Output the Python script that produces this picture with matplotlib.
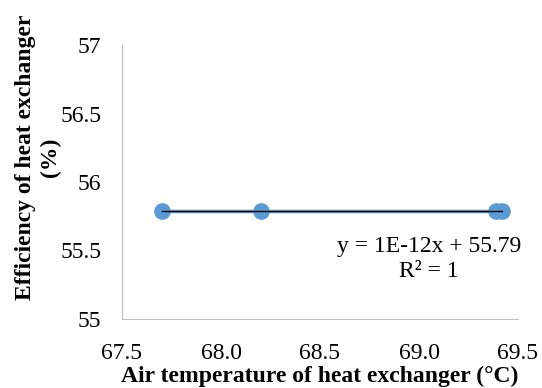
import numpy as np
import matplotlib.pyplot as plt

plt.rcParams['font.family'] = ['Liberation Serif', 'DejaVu Serif']

# temperatura powietrza i sprawnosc wymiennika
temp = [67.70, 68.20, 69.39, 69.42]
sprawnosc = [55.79, 55.79, 55.79, 55.79]

fig = plt.figure(figsize=(5.42, 3.88), dpi=100)
ax = fig.add_axes([122/542, 1 - 319/388, 396/542, 274/388])

ax.plot(temp, sprawnosc, color='#5B9BD5', linewidth=2.5, marker='o',
        markersize=11, zorder=2)

# linia trendu
a, b = np.polyfit(temp, sprawnosc, 1)
xt = np.array([min(temp), max(temp)])
ax.plot(xt, a * xt + b, color='black', linewidth=1, zorder=3)

ax.text(69.05, 55.44, 'y = 1E-12x + 55.79\nR² = 1', fontsize=17,
        ha='center', va='center', linespacing=1.25)

ax.set_xlim(67.5, 69.5)
ax.set_ylim(55, 57)
ax.set_xticks(np.arange(67.5, 69.6, 0.5))
ax.set_xticklabels(['67.5', '68.0', '68.5', '69.0', '69.5'])
ax.set_yticks([55, 55.5, 56, 56.5, 57])
ax.set_yticklabels(['55', '55.5', '56', '56.5', '57'])
ax.tick_params(length=0, labelsize=17)
ax.tick_params(axis='y', pad=15)
ax.tick_params(axis='x', pad=17)

for s in ['top', 'right']:
    ax.spines[s].set_visible(False)
for s in ['left', 'bottom']:
    ax.spines[s].set_color('#BFBFBF')

ax.set_xlabel('Air temperature of heat exchanger (°C)', fontsize=17,
              fontweight='bold')
ax.xaxis.set_label_coords(0.5, -0.17)
ax.set_ylabel('Efficiency of heat exchanger\n(%)', fontsize=17,
              fontweight='bold', linespacing=1.2)
ax.yaxis.set_label_coords(-0.155, 0.59)

fig.savefig('out.png', dpi=100)
